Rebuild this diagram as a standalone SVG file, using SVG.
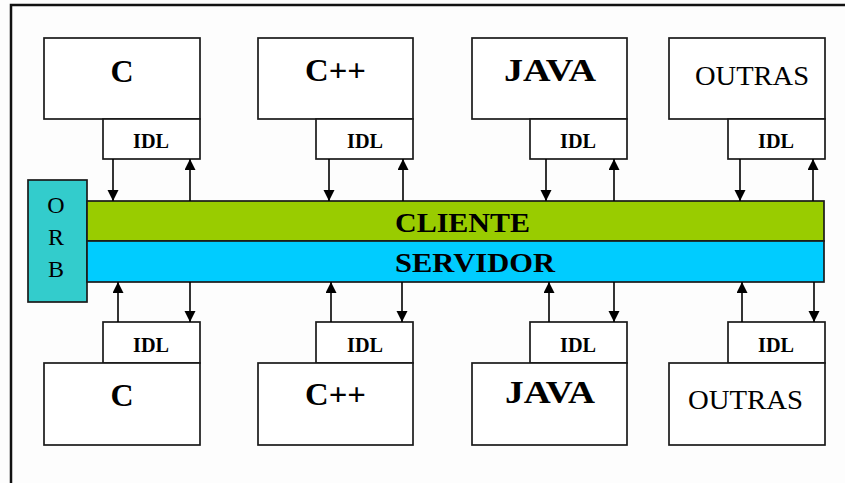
<svg xmlns="http://www.w3.org/2000/svg" width="845" height="483" viewBox="0 0 845 483">
  <defs>
    <marker id="arrow" markerUnits="userSpaceOnUse" markerWidth="12" markerHeight="12" refX="11" refY="5.5" orient="auto">
      <path d="M0,0 L11,5.5 L0,11 z" fill="#000"/>
    </marker>
    <style>
      .box { fill: #fff; stroke: #1a1a1a; stroke-width: 1.7; }
      .lang { font-family: "Liberation Serif", "Times New Roman", serif; font-weight: bold; font-size: 32px; fill: #000; text-anchor: middle; }
      .other { font-family: "Liberation Serif", "Times New Roman", serif; font-size: 28px; fill: #000; text-anchor: middle; }
      .idl { font-family: "Liberation Serif", "Times New Roman", serif; font-weight: bold; font-size: 20px; fill: #000; text-anchor: middle; }
      .bus { font-family: "Liberation Serif", "Times New Roman", serif; font-weight: bold; font-size: 28px; fill: #000; }
      .orb { font-family: "Liberation Serif", "Times New Roman", serif; font-size: 24px; fill: #000; text-anchor: middle; }
      .link { stroke: #000; stroke-width: 1.6; fill: none; marker-end: url(#arrow); }
    </style>
  </defs>

  <rect width="845" height="483" fill="#fdfdfd"/>
  <!-- outer frame -->
  <path d="M11,483 V5 H845" fill="none" stroke="#111" stroke-width="2.5"/>

  <!-- ORB bus -->
  <g id="orb">
    <rect x="28" y="180" width="59" height="122" fill="#33cccc" stroke="#1a1a1a" stroke-width="1.7"/>
    <text class="orb" x="56" y="213">O</text>
    <text class="orb" x="56" y="245">R</text>
    <text class="orb" x="56" y="277">B</text>
  </g>
  <g id="cliente">
    <rect x="87" y="201" width="737" height="40" fill="#99cc00" stroke="#1a1a1a" stroke-width="1.7"/>
    <text class="bus" x="395" y="232" textLength="135" lengthAdjust="spacingAndGlyphs">CLIENTE</text>
  </g>
  <g id="servidor">
    <rect x="87" y="241" width="737" height="41" fill="#00ccff" stroke="#1a1a1a" stroke-width="1.7"/>
    <text class="bus" x="395" y="272" textLength="160" lengthAdjust="spacingAndGlyphs">SERVIDOR</text>
  </g>

  <!-- client side languages -->
  <g id="client-c">
    <rect class="box" x="44" y="38" width="156" height="81"/>
    <text class="lang" x="122" y="82">C</text>
    <rect class="box" x="103" y="119" width="97" height="40"/>
    <text class="idl" x="151" y="148" textLength="36" lengthAdjust="spacingAndGlyphs">IDL</text>
  </g>
  <g id="client-cpp">
    <rect class="box" x="258" y="38" width="155" height="81"/>
    <text class="lang" x="335.5" y="81" textLength="61" lengthAdjust="spacingAndGlyphs">C++</text>
    <rect class="box" x="316" y="119" width="97" height="40"/>
    <text class="idl" x="365" y="148" textLength="36" lengthAdjust="spacingAndGlyphs">IDL</text>
  </g>
  <g id="client-java">
    <rect class="box" x="472" y="38" width="155" height="81"/>
    <text class="lang" x="550" y="81" textLength="92" lengthAdjust="spacingAndGlyphs">JAVA</text>
    <rect class="box" x="530" y="119" width="97" height="40"/>
    <text class="idl" x="578" y="148" textLength="36" lengthAdjust="spacingAndGlyphs">IDL</text>
  </g>
  <g id="client-outras">
    <rect class="box" x="669" y="38" width="156" height="81"/>
    <text class="other" x="752" y="85" textLength="114" lengthAdjust="spacingAndGlyphs">OUTRAS</text>
    <rect class="box" x="728" y="119" width="97" height="40"/>
    <text class="idl" x="776" y="148" textLength="36" lengthAdjust="spacingAndGlyphs">IDL</text>
  </g>

  <!-- server side languages -->
  <g id="server-c">
    <rect class="box" x="103" y="322" width="97" height="41"/>
    <text class="idl" x="151" y="352" textLength="36" lengthAdjust="spacingAndGlyphs">IDL</text>
    <rect class="box" x="44" y="363" width="156" height="82"/>
    <text class="lang" x="122" y="406">C</text>
  </g>
  <g id="server-cpp">
    <rect class="box" x="316" y="322" width="97" height="41"/>
    <text class="idl" x="365" y="352" textLength="36" lengthAdjust="spacingAndGlyphs">IDL</text>
    <rect class="box" x="258" y="363" width="155" height="82"/>
    <text class="lang" x="335.5" y="405" textLength="61" lengthAdjust="spacingAndGlyphs">C++</text>
  </g>
  <g id="server-java">
    <rect class="box" x="530" y="322" width="97" height="41"/>
    <text class="idl" x="578" y="352" textLength="36" lengthAdjust="spacingAndGlyphs">IDL</text>
    <rect class="box" x="472" y="363" width="155" height="82"/>
    <text class="lang" x="550" y="403" textLength="90" lengthAdjust="spacingAndGlyphs">JAVA</text>
  </g>
  <g id="server-outras">
    <rect class="box" x="728" y="322" width="97" height="41"/>
    <text class="idl" x="776" y="352" textLength="36" lengthAdjust="spacingAndGlyphs">IDL</text>
    <rect class="box" x="669" y="363" width="156" height="82"/>
    <text class="other" x="745.5" y="409" textLength="115" lengthAdjust="spacingAndGlyphs">OUTRAS</text>
  </g>

  <!-- connectors between IDL stubs and the bus -->
  <g id="connectors">
    <line class="link" x1="113" y1="159" x2="113" y2="201"/>
    <line class="link" x1="190" y1="201" x2="190" y2="159"/>
    <line class="link" x1="329" y1="159" x2="329" y2="201"/>
    <line class="link" x1="403" y1="201" x2="403" y2="159"/>
    <line class="link" x1="546" y1="159" x2="546" y2="201"/>
    <line class="link" x1="614" y1="201" x2="614" y2="159"/>
    <line class="link" x1="740" y1="159" x2="740" y2="201"/>
    <line class="link" x1="813" y1="201" x2="813" y2="159"/>

    <line class="link" x1="118" y1="322" x2="118" y2="282"/>
    <line class="link" x1="190" y1="282" x2="190" y2="322"/>
    <line class="link" x1="331" y1="322" x2="331" y2="282"/>
    <line class="link" x1="402" y1="282" x2="402" y2="322"/>
    <line class="link" x1="549" y1="322" x2="549" y2="282"/>
    <line class="link" x1="614" y1="282" x2="614" y2="322"/>
    <line class="link" x1="742" y1="322" x2="742" y2="282"/>
    <line class="link" x1="814" y1="282" x2="814" y2="322"/>
  </g>
</svg>
